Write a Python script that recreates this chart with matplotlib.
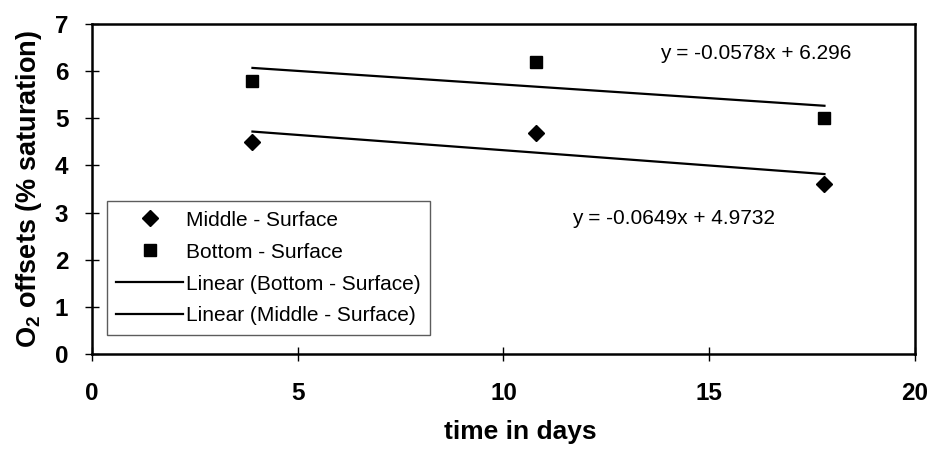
import matplotlib.pyplot as plt
import numpy as np

plt.rcParams['font.family'] = ['Liberation Sans', 'DejaVu Sans']
plt.rcParams['mathtext.fontset'] = 'custom'
plt.rcParams['mathtext.rm'] = 'Liberation Sans:bold'
plt.rcParams['mathtext.bf'] = 'Liberation Sans:bold'

# Data
days = [3.9, 10.8, 17.8]
middle = [4.5, 4.7, 3.6]
bottom = [5.8, 6.2, 5.0]

# trend line coefficients (slope, intercept) as printed on the chart
fit_bottom = (-0.0578, 6.296)
fit_middle = (-0.0649, 4.9732)

fig = plt.figure(figsize=(9.31, 4.55), dpi=100)
ax = fig.add_axes([0.0988, 0.222, 0.884, 0.725])

ax.plot(days, middle, 'D', color='black', markersize=8.5, label='Middle - Surface')
ax.plot(days, bottom, 's', color='black', markersize=8.5, label='Bottom - Surface')

xs = np.array([days[0], days[-1]])
ax.plot(xs, fit_bottom[0] * xs + fit_bottom[1], color='black', linewidth=1.6,
        label='Linear (Bottom - Surface)')
ax.plot(xs, fit_middle[0] * xs + fit_middle[1], color='black', linewidth=1.6,
        label='Linear (Middle - Surface)')

ax.text(0.69, 0.91, 'y = -0.0578x + 6.296', transform=ax.transAxes,
        fontsize=15, va='center', ha='left')
ax.text(0.583, 0.41, 'y = -0.0649x + 4.9732', transform=ax.transAxes,
        fontsize=15, va='center', ha='left')

ax.set_xlim(0, 20)
ax.set_ylim(0, 7)
ax.set_xticks([0, 5, 10, 15, 20])
ax.set_yticks(range(8))

for s in ax.spines.values():
    s.set_linewidth(1.8)

ax.tick_params(axis='both', direction='inout', length=10, width=1, labelsize=17.5)
ax.tick_params(axis='x', pad=15)
ax.tick_params(axis='y', pad=12)
for lab in ax.get_xticklabels() + ax.get_yticklabels():
    lab.set_fontweight('bold')

ax.set_xlabel('time in days', fontsize=19, fontweight='bold')
ax.xaxis.set_label_coords(0.52, -0.2)
ax.set_ylabel(r'$\mathbf{O_2}$ offsets (% saturation)', fontsize=19.5,
              fontweight='bold', labelpad=8)

leg = ax.legend(loc='lower left', bbox_to_anchor=(0.018, 0.058), borderaxespad=0,
                fontsize=15, frameon=True, fancybox=False, handlelength=3.2,
                numpoints=1, labelspacing=0.62, handletextpad=0.15, borderpad=0.45)
leg.get_frame().set_edgecolor('#333333')
leg.get_frame().set_linewidth(1.0)

fig.savefig('out.png', dpi=100)
